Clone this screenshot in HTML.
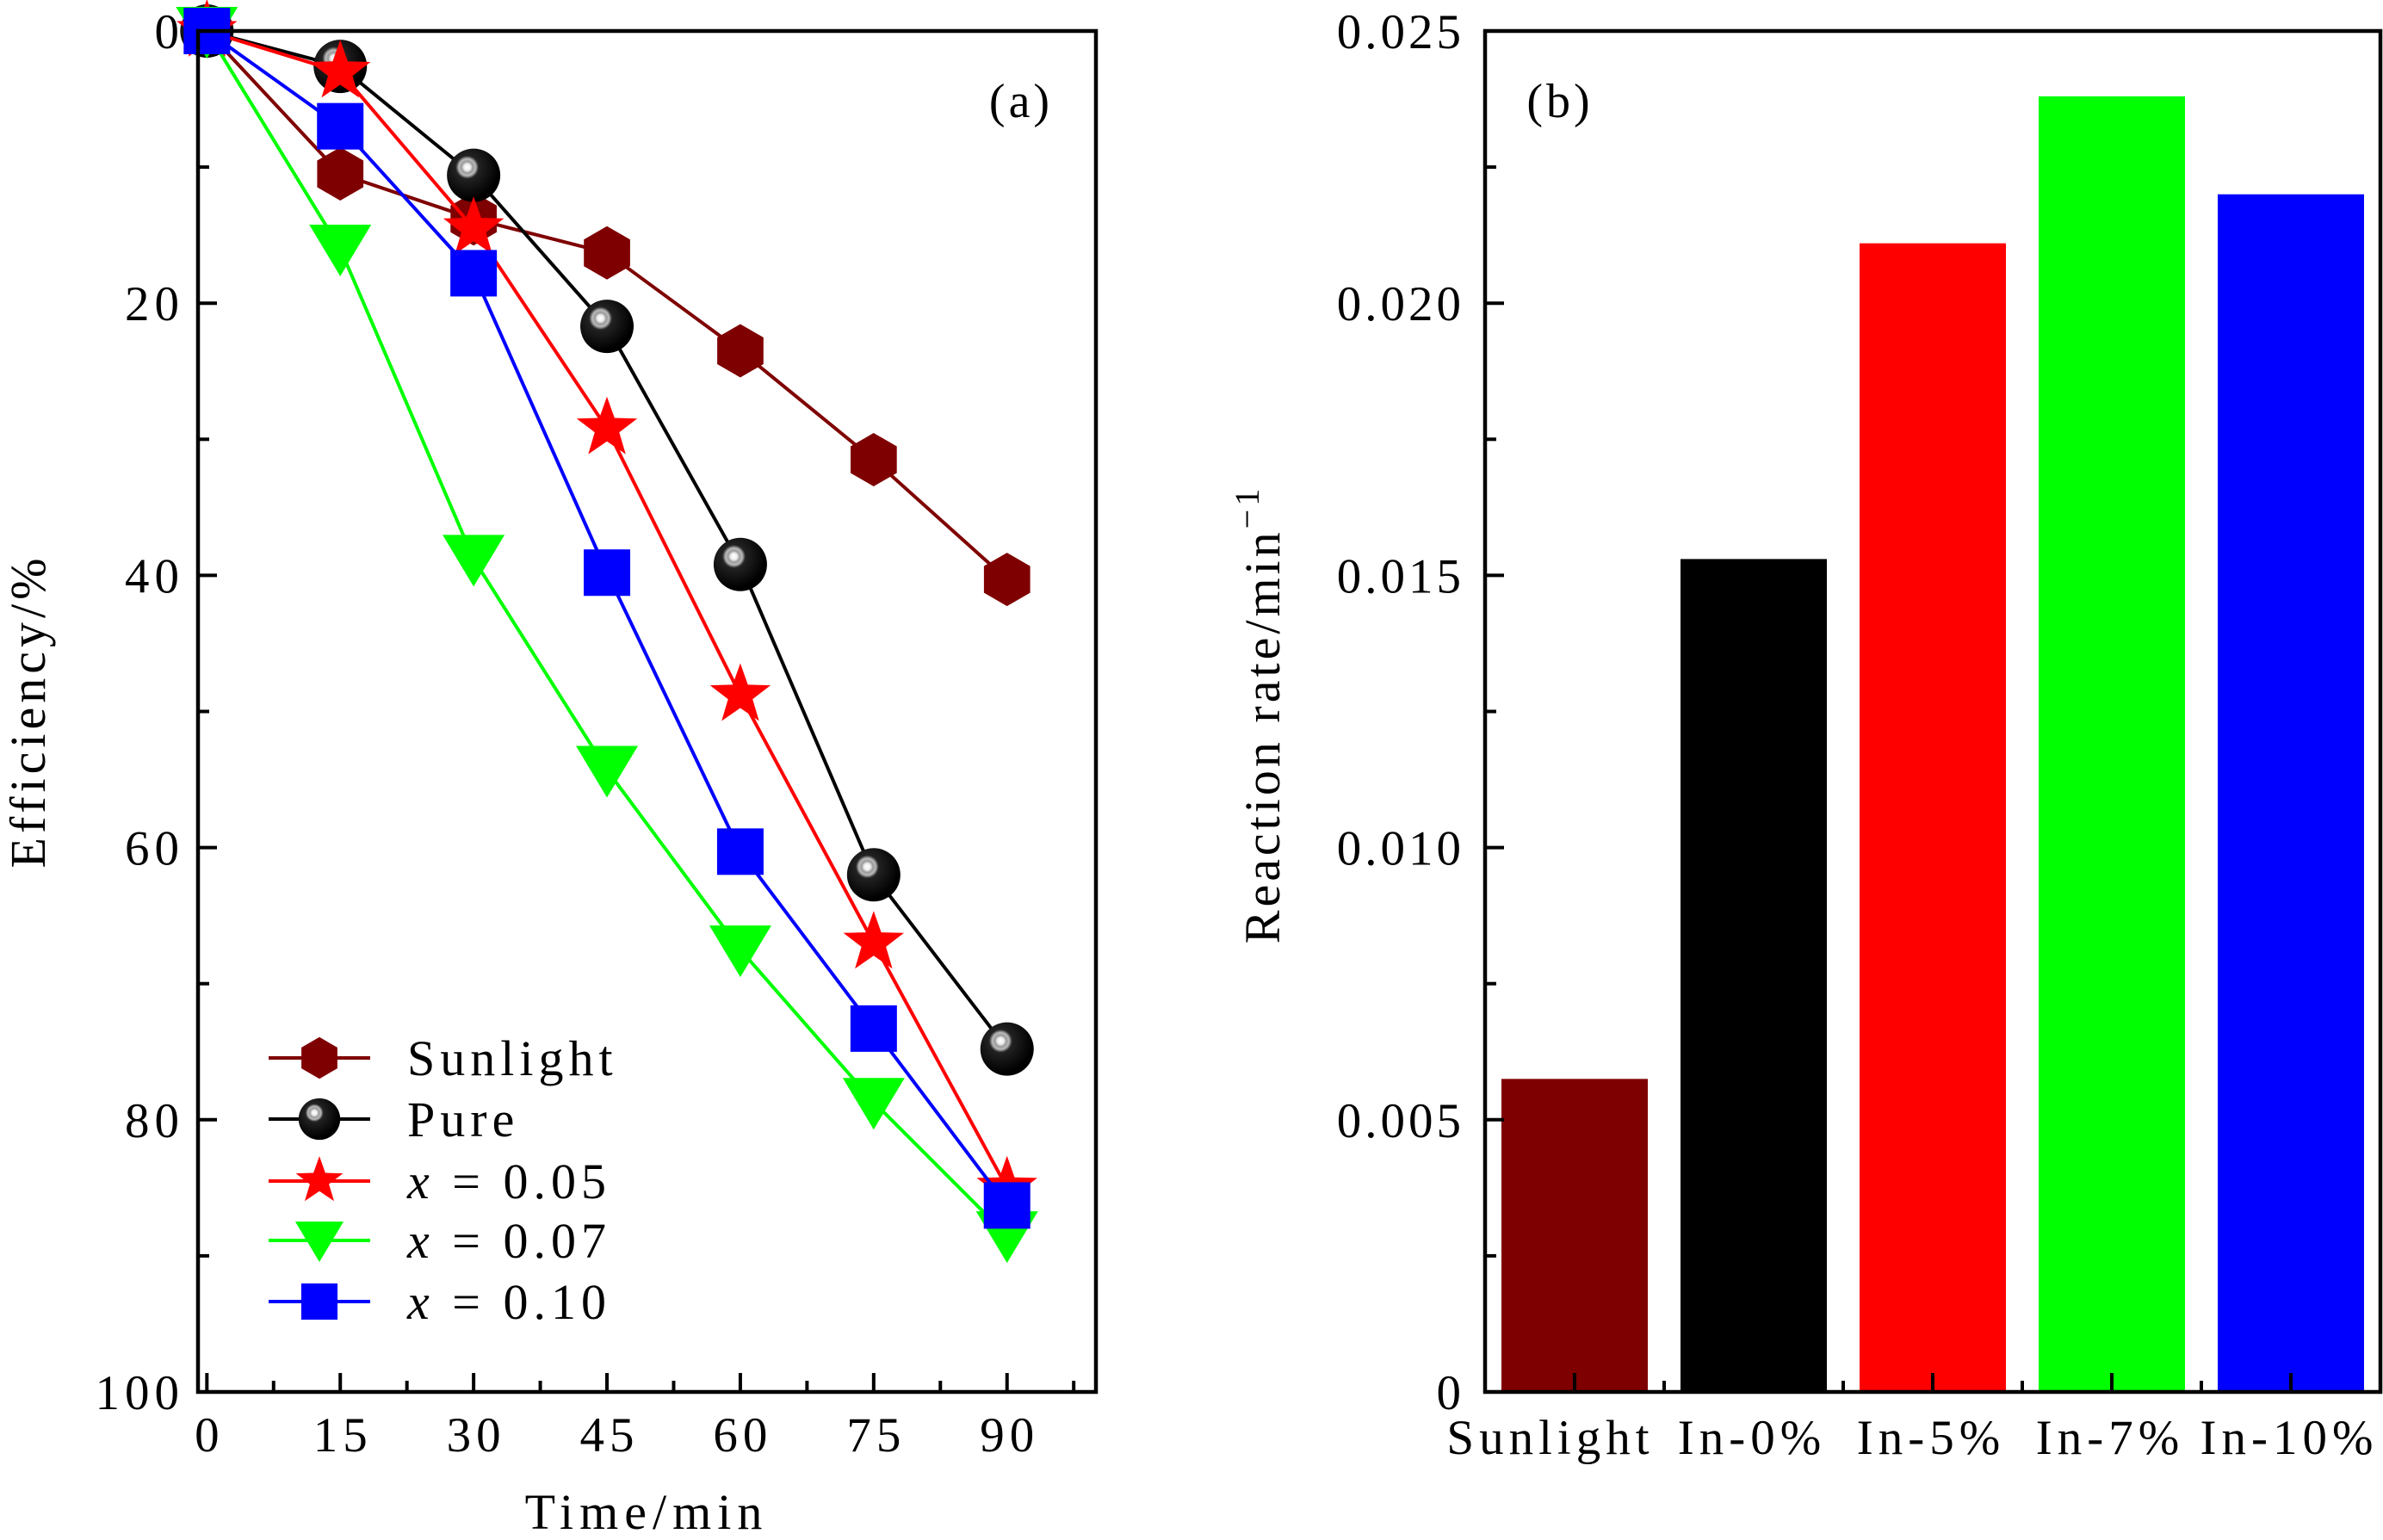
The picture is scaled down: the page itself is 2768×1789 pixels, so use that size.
<!DOCTYPE html>
<html><head><meta charset="utf-8">
<style>
html,body{margin:0;padding:0;background:#fff;}
svg{display:block;}
text{font-family:"Liberation Serif","DejaVu Serif",serif;fill:#000;}
</style></head>
<body>
<svg id="chart" width="2768" height="1789" viewBox="0 0 2768 1789" xmlns="http://www.w3.org/2000/svg">
<defs>
<radialGradient id="sph" cx="0.38" cy="0.35" r="0.6" fx="0.38" fy="0.35">
<stop offset="0" stop-color="#fff"/>
<stop offset="0.1" stop-color="#eee"/>
<stop offset="0.18" stop-color="#999"/>
<stop offset="0.26" stop-color="#bbb"/>
<stop offset="0.36" stop-color="#222"/>
<stop offset="1" stop-color="#000"/>
</radialGradient>
</defs>
<g id="pa"></g>
<g id="pb"></g>
</svg>
<script>
const times = [0, 15, 30, 45, 60, 75, 90];
const seriesNames = ["Sunlight", "Pure", "x = 0.05", "x = 0.07", "x = 0.10"];
const sunlightVals = [0, 10.5, 13.8, 16.3, 23.5, 31.5, 40.3];
const pureVals = [0, 2.6, 10.6, 21.7, 39.2, 62.0, 74.8];
const x005Vals = [0, 3.0, 14.5, 29.2, 48.8, 67.0, 85.0];
const x007Vals = [0, 16.0, 38.8, 54.3, 67.5, 78.7, 88.5];
const x010Vals = [0, 7.0, 17.8, 39.8, 60.3, 73.3, 86.3];
const xTicks = [0, 15, 30, 45, 60, 75, 90];
const yTicks = [0, 20, 40, 60, 80, 100];
const barCats = ["Sunlight", "In-0%", "In-5%", "In-7%", "In-10%"];
const barVals = [0.00575, 0.0153, 0.0211, 0.0238, 0.0220];
const barYTicks = [0, 0.005, 0.010, 0.015, 0.020, 0.025];
const barYLabels = ["0", "0.005", "0.010", "0.015", "0.020", "0.025"];

const NS = "http://www.w3.org/2000/svg";
function mk(parent, tag, attrs, txt){
  const e = document.createElementNS(NS, tag);
  for (const k in attrs) e.setAttribute(k, attrs[k]);
  if (txt !== undefined) e.textContent = txt;
  parent.appendChild(e);
  return e;
}
const LS = 6;
// ---------- Panel A ----------
const A = {l:230, r:1273, t:36, b:1617, x0:-1, x1:100, y0:0, y1:100};
const ax = v => A.l + (v - A.x0) / (A.x1 - A.x0) * (A.r - A.l);
const ay = v => A.t + (v - A.y0) / (A.y1 - A.y0) * (A.b - A.t);
const pa = document.getElementById('pa');

function marker(g, kind, cx, cy, s){
  let e;
  if (kind === 'hex'){
    const r = 31*s, pts = [];
    for (let i=0;i<6;i++){ const a = Math.PI/2 + i*Math.PI/3; pts.push((cx+r*Math.cos(a)).toFixed(1)+','+(cy+r*Math.sin(a)).toFixed(1)); }
    e = mk(g,'polygon',{points:pts.join(' '),fill:'#7f0000'});
  } else if (kind === 'sph'){
    e = mk(g,'circle',{cx:cx,cy:cy,r:31*s,fill:'url(#sph)'});
  } else if (kind === 'star'){
    const R = 37*s, r0 = 15*s, pts=[];
    for (let i=0;i<10;i++){ const a = -Math.PI/2 + i*Math.PI/5; const rr = i%2?r0:R; pts.push((cx+rr*Math.cos(a)).toFixed(1)+','+(cy+rr*Math.sin(a)).toFixed(1)); }
    e = mk(g,'polygon',{points:pts.join(' '),fill:'#ff0000'});
  } else if (kind === 'tri'){
    const w = 36*s;
    e = mk(g,'polygon',{points:`${cx-w},${cy-28*s} ${cx+w},${cy-28*s} ${cx},${cy+32*s}`,fill:'#00ff00'});
  } else {
    const h = 27*s;
    e = mk(g,'rect',{x:cx-h,y:cy-h,width:2*h,height:2*h,fill:'#0000ff'});
  }
  return e;
}

const seriesData = [sunlightVals, pureVals, x005Vals, x007Vals, x010Vals];
const seriesColors = ['#7f0000','#000000','#ff0000','#00ff00','#0000ff'];
const seriesKinds = ['hex','sph','star','tri','sq'];
const seriesKeys = ['sunlight','pure','x-0-05','x-0-07','x-0-10'];

seriesData.forEach((vals, si) => {
  const g = mk(pa,'g',{});
  
  
  const pts = vals.map((v,i)=> ax(times[i]).toFixed(1)+','+ay(v).toFixed(1)).join(' ');
  const pl = mk(g,'polyline',{points:pts,fill:'none',stroke:seriesColors[si],'stroke-width':4});
  
  
  vals.forEach((v,i)=>{
    const m = marker(g, seriesKinds[si], ax(times[i]), ay(v), 1);
    
    
  });
});
const fa = mk(pa,'rect',{x:A.l,y:A.t,width:A.r-A.l,height:A.b-A.t,fill:'none',stroke:'#000','stroke-width':4.5});


for (let v=0; v<=97.5; v+=7.5){
  const major = (v % 15 === 0);
  const t = mk(pa,'line',{x1:ax(v),x2:ax(v),y1:A.b,y2:A.b-(major?22:13),stroke:'#000','stroke-width':4});
  
  
}
xTicks.forEach(v=>{
  const t = mk(pa,'text',{x:ax(v)+LS/2,y:1686,'font-size':57,'text-anchor':'middle','letter-spacing':LS}, String(v));
  
  
});
for (let v=0; v<=100; v+=10){
  const major = (v % 20 === 0);
  const t = mk(pa,'line',{x1:A.l,x2:A.l+(major?22:13),y1:ay(v),y2:ay(v),stroke:'#000','stroke-width':4});
  
  
}
yTicks.forEach(v=>{
  const t = mk(pa,'text',{x:208+LS,y:ay(v)+20,'font-size':57,'text-anchor':'end','letter-spacing':LS}, String(v));
  
  
});
let tt = mk(pa,'text',{x:751,y:1776,'font-size':58,'text-anchor':'middle','letter-spacing':7},'Time/min');


tt = mk(pa,'text',{x:0,y:0,'font-size':58,'text-anchor':'middle','letter-spacing':5,transform:'translate(52,826) rotate(-90)'},'Efficiency/%');


tt = mk(pa,'text',{x:1186,y:136,'font-size':56,'text-anchor':'middle','letter-spacing':4},'(a)');


const legY = [1229, 1300, 1372, 1441, 1512];
const lg = mk(pa,'g',{});


seriesNames.forEach((n,i)=>{
  const e = mk(lg,'g',{});
  
  
  mk(e,'line',{x1:312,x2:430,y1:legY[i],y2:legY[i],stroke:seriesColors[i],'stroke-width':4});
  marker(e, seriesKinds[i], 371, legY[i], 0.78);
  if (i < 2){
    mk(e,'text',{x:473,y:legY[i]+20,'font-size':58,'letter-spacing':6}, n);
  } else {
    const t = mk(e,'text',{x:473,y:legY[i]+20,'font-size':58,'letter-spacing':6});
    mk(t,'tspan',{'font-style':'italic'},'x');
    mk(t,'tspan',{}, ' = ' + n.split('= ')[1]);
  }
});
// ---------- Panel B ----------
const B = {l:1725, r:2765, t:36, b:1617, y1:0.025};
const bx = i => B.l + (i + 0.5) / barCats.length * (B.r - B.l);
const by = v => B.b - v / B.y1 * (B.b - B.t);
const pb = document.getElementById('pb');
const bw = 170;
barVals.forEach((v,i)=>{
  const r = mk(pb,'rect',{x:bx(i)-bw/2,y:by(v),width:bw,height:B.b-by(v),fill:seriesColors[i]});
  
  
});
const fb = mk(pb,'rect',{x:B.l,y:B.t,width:B.r-B.l,height:B.b-B.t,fill:'none',stroke:'#000','stroke-width':4.5});


barCats.forEach((c,i)=>{
  let t = mk(pb,'line',{x1:bx(i),x2:bx(i),y1:B.b,y2:B.b-22,stroke:'#000','stroke-width':4});
  
  
  if (i < barCats.length-1){
    const mx = (bx(i)+bx(i+1))/2;
    t = mk(pb,'line',{x1:mx,x2:mx,y1:B.b,y2:B.b-13,stroke:'#000','stroke-width':4});
    
    
  }
  const shift = (i === 0) ? -28 : -2;
  t = mk(pb,'text',{x:bx(i)+shift,y:1689,'font-size':57,'text-anchor':'middle','letter-spacing':6}, c);
  
  
});
for (let k=0;k<=10;k++){
  const v = k*0.0025, major = (k%2===0);
  const t = mk(pb,'line',{x1:B.l,x2:B.l+(major?22:13),y1:by(v),y2:by(v),stroke:'#000','stroke-width':4});
  
  
}
barYTicks.forEach((v,i)=>{
  const t = mk(pb,'text',{x:1697+4,y:by(v)+20,'font-size':57,'text-anchor':'end','letter-spacing':4}, barYLabels[i]);
  
  
});
tt = mk(pb,'text',{x:0,y:0,'font-size':58,'text-anchor':'middle','letter-spacing':4,transform:'translate(1486,830) rotate(-90)'});


mk(tt,'tspan',{},'Reaction rate/min');
mk(tt,'tspan',{'font-size':40,dy:-24},'−1');
tt = mk(pb,'text',{x:1812,y:136,'font-size':56,'text-anchor':'middle','letter-spacing':4},'(b)');


</script>
</body></html>
